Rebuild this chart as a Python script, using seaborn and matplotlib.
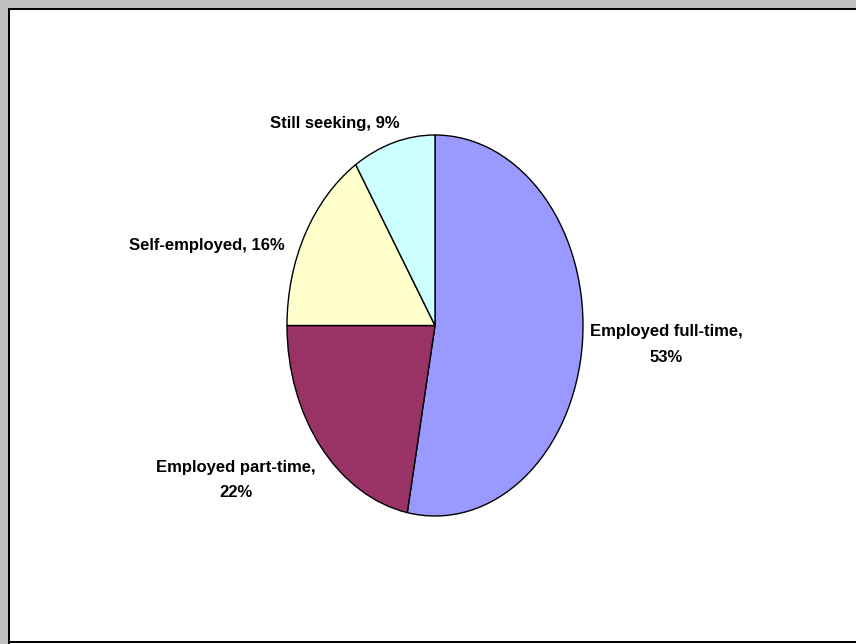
import numpy as np
import matplotlib
matplotlib.use("Agg")
import matplotlib.pyplot as plt
import seaborn as sns
from matplotlib.patches import Rectangle

# data
categories = ["Employed full-time", "Employed part-time", "Self-employed", "Still seeking"]
shares = [53, 22, 16, 9]
colors = ["#9999FF", "#993366", "#FFFFCC", "#CCFFFF"]
label_lines = [True, True, False, False]  # two-line labels

sns.set_theme(style="white")
plt.rcParams['font.family'] = ['Liberation Sans', 'DejaVu Sans']

W, H = 856, 644
fig = plt.figure(figsize=(W / 100, H / 100), dpi=100)
fig.patch.set_facecolor("white")

# frame: grey band on left/top, black inner border
def px_rect(x0, y0, x1, y1, color):
    fig.add_artist(Rectangle((x0 / W, 1 - y1 / H), (x1 - x0) / W, (y1 - y0) / H,
                             transform=fig.transFigure, facecolor=color,
                             edgecolor="none", zorder=0))

px_rect(0, 0, W, 7.5, "#C0C0C0")
px_rect(0, 0, 8, H, "#C0C0C0")
px_rect(8, 7.5, W, 9.5, "#000000")
px_rect(8, 7.5, 10, H, "#000000")
px_rect(8, 641, W, 643, "#000000")

# pie axes (ellipse: stretched vertically)
cx, cy, rx, ry = 435, 325.5, 148, 190.5
ax = fig.add_axes([(cx - rx) / W, 1 - (cy + ry) / H, 2 * rx / W, 2 * ry / H])
wedges, _ = ax.pie(shares, colors=colors, startangle=90, counterclock=False,
                   wedgeprops=dict(edgecolor="black", linewidth=1.0))
ax.set_aspect("auto")
ax.set_xlim(-1, 1)
ax.set_ylim(-1, 1)
ax.axis("off")

# labels placed outside the wedge mid angles
label_radius = [1.052, 1.043, 1.157, 0.848]
y_shift = [0.0, -0.146, -0.135, 0.244]
for w, cat, val, two, r, dy in zip(wedges, categories, shares, label_lines, label_radius, y_shift):
    ang = np.deg2rad((w.theta1 + w.theta2) / 2)
    x = r * np.cos(ang)
    y = r * np.sin(ang) + dy
    txt = f"{cat},\n{val}%" if two else f"{cat}, {val}%"
    ax.text(x, y, txt, ha="left" if x > 0 else "right", va="center",
            multialignment="center", fontsize=12, fontweight="bold",
            color="black", clip_on=False, linespacing=1.9)

fig.savefig("out.png", dpi=100)
